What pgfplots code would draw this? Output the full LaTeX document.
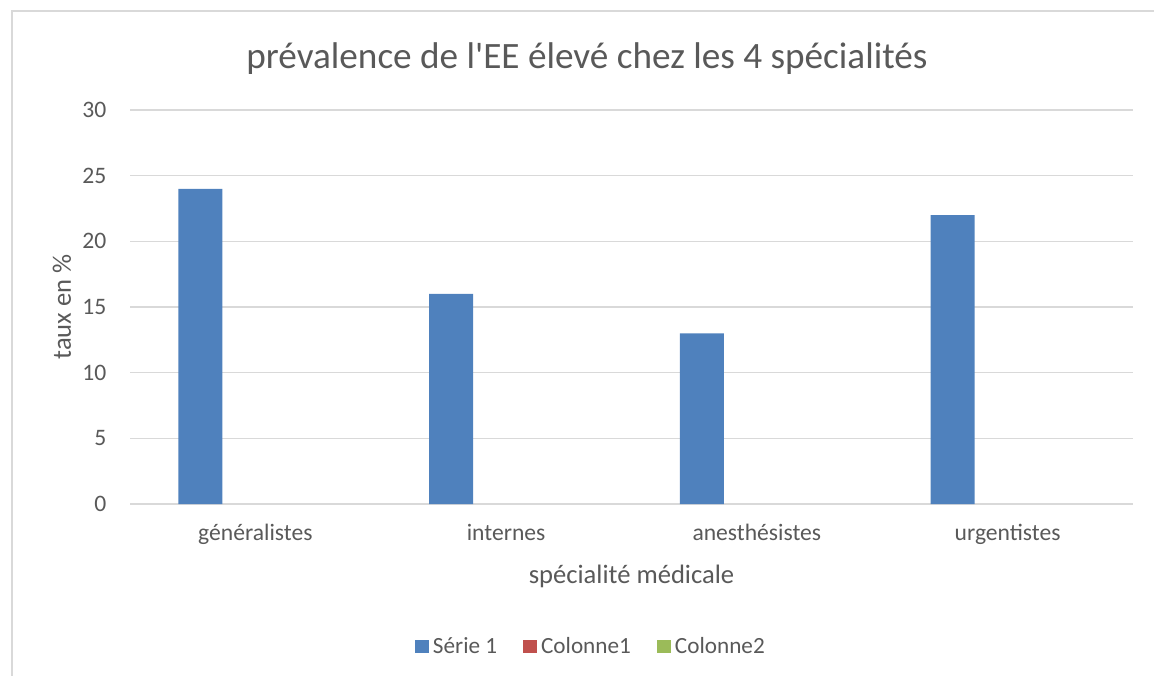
\documentclass[border=0pt]{standalone}
\usepackage{pgfplots}
\pgfplotsset{compat=1.18}
\usepackage{fontspec}
\setmainfont{Carlito}[Ligatures=TeXOff]
\definecolor{txt}{HTML}{595959}
\definecolor{gridc}{HTML}{D9D9D9}
\definecolor{sA}{HTML}{4F81BD}
\definecolor{sB}{HTML}{C0504D}
\definecolor{sC}{HTML}{9BBB59}
\begin{document}
\begin{tikzpicture}[x=1pt,y=1pt]
\useasboundingbox (0,0) rectangle (577,337.5);
\draw[gridc,line width=0.6pt] (6,-10) -- (6,332) -- (600,332);
\begin{axis}[
  at={(65pt,85.5pt)}, anchor=south west,
  scale only axis, width=501.5pt, height=197pt,
  ybar, bar width=0.1755,
  xmin=-0.5, xmax=3.5, ymin=0, ymax=30,
  ytick={0,5,...,30},
  xtick={0,1,2,3},
  xticklabels={généralistes,internes,anesthésistes,urgentistes},
  major tick length=0pt,
  axis line style={draw=none},
  xmajorgrids=false, ymajorgrids=true, grid style={gridc, line width=0.6pt},
  axis x line*=bottom, axis y line*=left,
  /pgf/number format/assume math mode=true,
  tick label style={font=\fontsize{11.8}{14}\selectfont, text=txt},
  yticklabel style={anchor=east, xshift=-8.3pt},
  xticklabel style={anchor=base, yshift=-18pt},
  title={prévalence de l'EE élevé chez les 4 spécialités},
  title style={font=\fontsize{18.6}{22}\selectfont, text=txt, at={(axis description cs:0.4556,1.099)}, anchor=center},
  xlabel={spécialité médicale},
  xlabel style={font=\fontsize{13.3}{15}\selectfont, text=txt, at={(axis description cs:0.5,-0.185)}, anchor=center},
  ylabel={taux en \%},
  ylabel style={font=\fontsize{13.3}{15}\selectfont, text=txt, at={(axis description cs:-0.0678,0.5)}, anchor=center, rotate=0},
  legend columns=3,
  legend style={draw=none, fill=none, font=\fontsize{11.6}{14}\selectfont, text=txt,
    at={(axis description cs:0.4605,-0.362)}, anchor=center,
    /tikz/every even column/.append style={column sep=11pt}},
  legend cell align=left,
  legend image code/.code={\fill[#1, fill opacity=1] (0pt,-3.4pt) rectangle (7pt,3.4pt);},
]
\addplot[fill=sA, draw=none, bar shift=-0.219] coordinates {(0,24) (1,16) (2,13) (3,22)};
\addplot[fill=sB, draw=none, fill opacity=0, bar shift=0] coordinates {(0,0) (1,0) (2,0) (3,0)};
\addplot[fill=sC, draw=none, fill opacity=0, bar shift=0.219] coordinates {(0,0) (1,0) (2,0) (3,0)};
\legend{Série 1, Colonne1, Colonne2}
\end{axis}
\end{tikzpicture}
\end{document}
